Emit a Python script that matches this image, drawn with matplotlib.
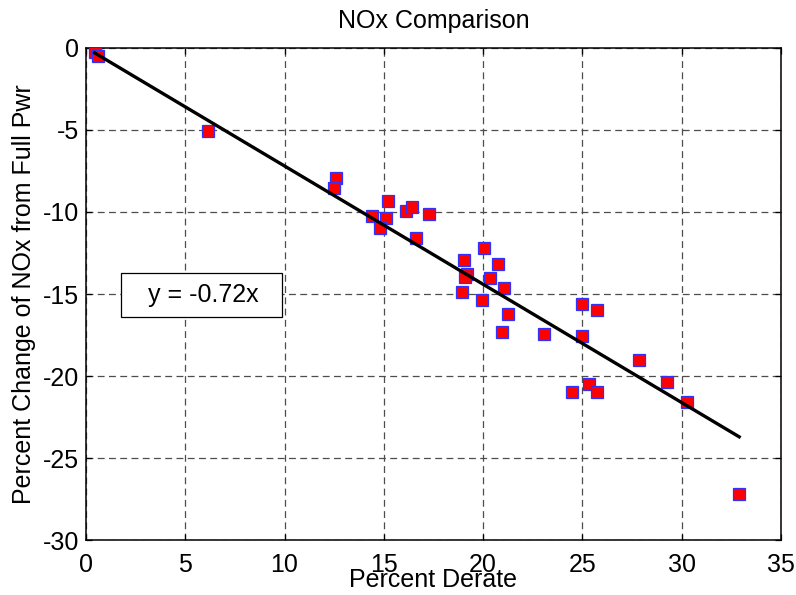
import numpy as np
import matplotlib

matplotlib.use("Agg")
import matplotlib.pyplot as plt
from matplotlib.patches import Rectangle

plt.rcParams["font.family"] = ["Liberation Sans", "DejaVu Sans"]
plt.rcParams["axes.unicode_minus"] = False

# measured points (percent derate, percent change of NOx)
derate = [0.44, 0.61, 6.17, 12.61, 12.51, 14.40, 15.21, 15.12, 14.82, 16.11,
          16.42, 17.30, 16.63, 20.04, 19.05, 20.74, 19.20, 19.10, 20.36, 21.05,
          18.95, 19.95, 21.25, 20.96, 23.06, 24.97, 25.76, 24.97, 27.87, 29.28,
          30.29, 24.47, 25.36, 25.76, 32.90]
nox_change = [-0.24, -0.51, -5.09, -7.92, -8.53, -10.22, -9.36, -10.36, -10.97, -9.97,
              -9.71, -10.12, -11.58, -12.19, -12.91, -13.17, -13.78, -13.95, -14.01, -14.60,
              -14.86, -15.35, -16.23, -17.31, -17.43, -15.60, -15.98, -17.55, -19.02, -20.34,
              -21.58, -20.95, -20.46, -20.95, -27.18]
slope = -0.72

x_ticks = [0, 5, 10, 15, 20, 25, 30, 35]
y_ticks = [0, -5, -10, -15, -20, -25, -30]

fig = plt.figure(figsize=(7.96, 5.95), dpi=100)
ax = fig.add_axes([0.108, 0.0916, 0.873, 0.8282])

ax.plot(derate, nox_change, linestyle="none", marker="s", markersize=8.6,
        markerfacecolor="#ff0000", markeredgecolor="#3030ff", markeredgewidth=0.9,
        zorder=3)

fit_x = np.array([min(derate), max(derate)])
ax.plot(fit_x, slope * fit_x, color="black", linewidth=2.4, zorder=4)

ax.set_xlim(0, 35)
ax.set_ylim(-30, 0)
ax.set_xticks(x_ticks)
ax.set_yticks(y_ticks)
ax.tick_params(direction="in", length=4, width=0.9, labelsize=18,
               top=True, right=True, pad=5)
ax.tick_params(axis="x", pad=9)
for spine in ax.spines.values():
    spine.set_linewidth(1.1)

ax.grid(True, color="0.3", linestyle=(0, (5.5, 3.5)), linewidth=0.9)
ax.set_axisbelow(True)

ax.set_title("NOx Comparison", fontsize=18, pad=14.5)
ax.set_xlabel("Percent Derate", fontsize=18, labelpad=-6.5)
ax.set_ylabel("Percent Change of NOx from Full Pwr", fontsize=18, labelpad=5)

# equation text box
fig.patches.append(Rectangle((0.1516, 0.4677), 0.2023, 0.0729,
                             transform=fig.transFigure, facecolor="white",
                             edgecolor="black", linewidth=0.9, zorder=5))
fig.text(0.186, 0.504, f"y = {slope:.2f}x", fontsize=18, va="center",
         ha="left", zorder=6)

fig.savefig("out.png", dpi=100)
